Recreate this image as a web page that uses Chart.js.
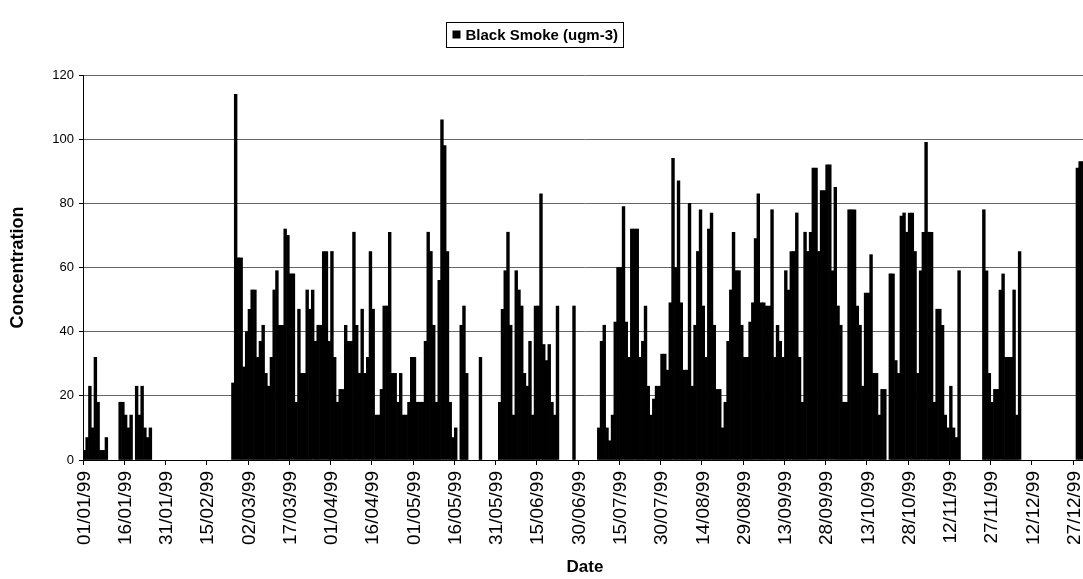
<!DOCTYPE html>
<html>
<head>
<meta charset="utf-8">
<title>Black Smoke 1999</title>
<script src="https://cdn.jsdelivr.net/npm/chart.js@4.4.1/dist/chart.umd.min.js"></script>
<style>
  html, body { margin: 0; padding: 0; background: #fff; overflow: hidden; width: 1083px; height: 579px; }
  #wrap { position: absolute; left: 0; top: 0; width: 1090px; height: 579px; }
</style>
</head>
<body>
<div id="wrap"><canvas id="chart" width="1090" height="579"></canvas></div>
<script>
// Daily black smoke concentration (ugm-3) for 1999, one array per month.
// null = no measurement that day.
const _ = null;
const monthLengths = [31, 28, 31, 30, 31, 30, 31, 31, 30, 31, 30, 31];

const jan = [3, 7, 23, 10, 32, 18, 3, 3, 7, _, _, _, _, 18, 18, 14, 10, 14, _, 23, 14, 23, 10, 7, 10, _, _, _, _, _, _];
const feb = [_, _, _, _, _, _, _, _, _, _, _, _, _, _, _, _, _, _, _, _, _, _, _, 24, 114, 63, 63, 29];
const mar = [40, 47, 53, 53, 32, 37, 42, 27, 23, 32, 53, 59, 42, 42, 72, 70, 58, 58, 18, 47, 27, 27, 53, 47, 53, 37, 42, 42, 65, 65, 37];
const apr = [65, 32, 18, 22, 22, 42, 37, 37, 71, 42, 27, 47, 27, 32, 65, 47, 14, 14, 22, 48, 48, 71, 27, 27, 18, 27, 14, 14, 18, 32];
const may = [32, 18, 18, 18, 37, 71, 65, 42, 18, 56, 106, 98, 65, 18, 7, 10, _, 42, 48, 27, _, _, _, _, 32, _, _, _, _, _, _];
const jun = [18, 47, 59, 71, 42, 14, 59, 53, 48, 27, 23, 37, 14, 48, 48, 83, 36, 31, 36, 18, 14, 48, _, _, _, _, _, 48, _, _];
const jul = [_, _, _, _, _, _, 10, 37, 42, 10, 6, 14, 43, 60, 60, 79, 43, 32, 72, 72, 72, 32, 37, 48, 23, 14, 19, 23, 23, 33, 33];
const aug = [28, 49, 94, 60, 87, 49, 28, 28, 80, 23, 42, 65, 78, 48, 32, 72, 77, 42, 22, 22, 10, 18, 37, 53, 71, 59, 59, 42, 32, 32, 43];
const sep = [49, 69, 83, 49, 49, 48, 48, 78, 32, 42, 37, 32, 59, 53, 65, 65, 77, 32, 18, 71, 65, 71, 91, 91, 65, 84, 84, 92, 92, 59];
const oct = [85, 48, 42, 18, 18, 78, 78, 78, 48, 42, 23, 52, 52, 64, 27, 27, 14, 22, 22, _, 58, 58, 31, 27, 76, 77, 71, 77, 77, 65, 27];
const nov = [59, 71, 99, 71, 71, 18, 47, 47, 42, 14, 10, 23, 10, 7, 59, _, _, _, _, _, _, _, _, 78, 59, 27, 18, 22, 22, 53];
const dec = [58, 32, 32, 32, 53, 14, 65, _, _, _, _, _, _, _, _, _, _, _, _, _, _, _, _, _, _, _, _, 91, 93, 93, _];

const concentration = [].concat(jan, feb, mar, apr, may, jun, jul, aug, sep, oct, nov, dec);

// Category labels dd/mm/99 for every day of the year
const pad2 = n => (n < 10 ? '0' : '') + n;
const dates = [];
monthLengths.forEach((len, m) => {
  for (let d = 1; d <= len; d++) dates.push(pad2(d) + '/' + pad2(m + 1) + '/99');
});

const labelEvery = 15;          // one date label every 15 days
const yMin = 0, yMax = 120, yStep = 20;
const seriesName = 'Black Smoke (ugm-3)';

const FONT = '"Liberation Sans", Arial, Helvetica, sans-serif';

// Boxed legend drawn above the plot
const boxedLegend = {
  id: 'boxedLegend',
  afterDraw(chart) {
    const ctx = chart.ctx;
    ctx.save();
    ctx.font = 'bold 15px ' + FONT;
    const text = chart.data.datasets[0].label;
    const tw = ctx.measureText(text).width;
    const boxW = Math.round(tw + 24), boxH = 25;
    const x0 = Math.round(534.5 - boxW / 2) + 0.5, y0 = 22.5;
    ctx.strokeStyle = '#000';
    ctx.lineWidth = 1;
    ctx.strokeRect(x0, y0, boxW, boxH);
    ctx.fillStyle = '#000';
    ctx.fillRect(x0 + 6, y0 + 8, 8, 8);
    ctx.textBaseline = 'middle';
    ctx.textAlign = 'left';
    ctx.fillText(text, x0 + 19, y0 + boxH / 2 + 1);
    ctx.restore();
  }
};

new Chart(document.getElementById('chart'), {
  type: 'bar',
  data: {
    labels: dates,
    datasets: [{
      label: seriesName,
      data: concentration,
      backgroundColor: '#000',
      borderWidth: 0,
      barPercentage: 1.0,
      categoryPercentage: 1.0
    }]
  },
  options: {
    responsive: false,
    animation: false,
    events: [],
    layout: { padding: { left: 0, right: 3, top: 75, bottom: 0 } },
    plugins: {
      legend: { display: false },
      tooltip: { enabled: false },
      title: { display: false }
    },
    scales: {
      x: {
        type: 'category',
        offset: true,
        grid: {
          offset: true,
          drawOnChartArea: false,
          drawTicks: true,
          tickLength: 5,
          color: 'rgba(0,0,0,0)',
          tickColor: ctx => (ctx.index % labelEvery === 0 ? '#000' : 'rgba(0,0,0,0)')
        },
        border: { color: '#000', width: 1 },
        ticks: {
          autoSkip: false,
          minRotation: 90,
          maxRotation: 90,
          padding: 6,
          color: '#000',
          font: { family: FONT, size: 19 },
          callback: (v, i) => (i % labelEvery === 0 ? dates[i] : '')
        },
        title: {
          display: true,
          text: 'Date',
          color: '#000',
          font: { family: FONT, size: 17, weight: 'bold' },
          padding: { top: 0, bottom: 1 }
        },
        afterFit: s => { s.height = 119; s.paddingLeft = 0; s.paddingRight = 0; }
      },
      y: {
        min: yMin,
        max: yMax,
        grid: { color: '#666', lineWidth: 1, tickLength: 4, tickColor: '#000' },
        border: { color: '#000', width: 1 },
        ticks: {
          stepSize: yStep,
          padding: 5,
          color: '#000',
          font: { family: FONT, size: 13 }
        },
        title: {
          display: true,
          text: 'Concentration',
          color: '#000',
          font: { family: FONT, size: 18, weight: 'bold' },
          padding: { top: 7, bottom: 0 }
        },
        afterFit: s => { s.width = 83; }
      }
    }
  },
  plugins: [boxedLegend]
});
</script>
</body>
</html>
